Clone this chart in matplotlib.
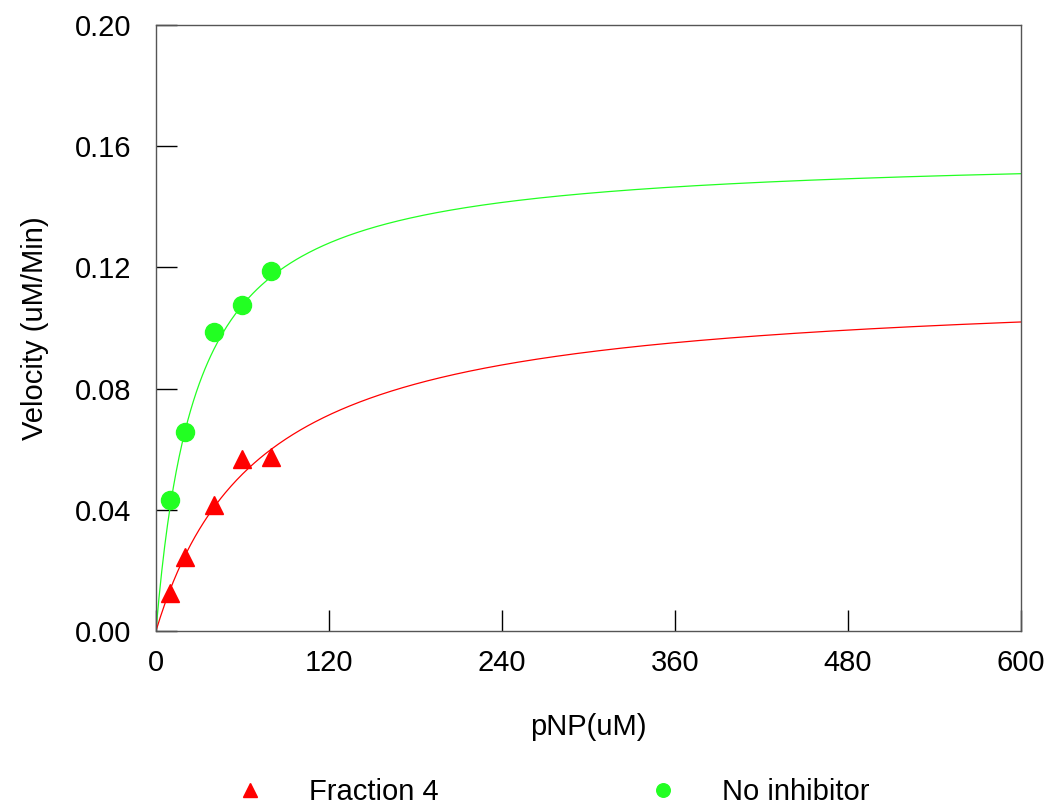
import numpy as np
import matplotlib.pyplot as plt
from matplotlib.ticker import FormatStrFormatter

plt.rcParams["font.family"] = ["Liberation Sans", "DejaVu Sans"]

# substrate concentrations (uM) and measured velocities (uM/min)
pnp = [10, 20, 40, 60, 80]
v_fraction4 = [0.0125, 0.0244, 0.0416, 0.0568, 0.0574]
v_no_inhib = [0.0432, 0.0657, 0.0987, 0.1076, 0.1188]

# Michaelis-Menten fit parameters (Vmax, Km)
fit_fraction4 = (0.1143, 72.4)
fit_no_inhib = (0.158, 28.1)

red = "#ff0000"
green = "#22ff22"


def mm(s, vmax, km):
    return vmax * s / (km + s)


fig = plt.figure(figsize=(10.51, 8.09), dpi=100)
ax = fig.add_axes([0.1484, 0.22, 0.8231, 0.7491])

s = np.linspace(0, 600, 600)
ax.plot(s, mm(s, *fit_no_inhib), color=green, lw=0.9, zorder=2)
ax.plot(s, mm(s, *fit_fraction4), color=red, lw=0.9, zorder=2)

ax.plot(pnp, v_fraction4, "^", color=red, ms=13, mec=red, ls="none",
        label="Fraction 4", zorder=3)
ax.plot(pnp, v_no_inhib, "o", color=green, ms=13, mec=green, ls="none",
        label="No inhibitor", zorder=3)

ax.set_xlim(0, 600)
ax.set_ylim(0, 0.2)
ax.set_xticks([0, 120, 240, 360, 480, 600])
ax.set_yticks([0, 0.04, 0.08, 0.12, 0.16, 0.20])
ax.yaxis.set_major_formatter(FormatStrFormatter("%.2f"))
ax.tick_params(direction="in", length=15, width=1, labelsize=21)
ax.tick_params(axis="y", pad=18)
ax.tick_params(axis="x", pad=13)

for sp in ax.spines.values():
    sp.set_color("#555555")
    sp.set_linewidth(1)

ax.set_xlabel("pNP(uM)", fontsize=21, labelpad=26)
ax.set_ylabel("Velocity (uM/Min)", fontsize=21, labelpad=18)

fig.legend(loc="center left", bbox_to_anchor=(0.213, 0.021), ncol=2,
           frameon=False, fontsize=21, handlelength=1.0, handletextpad=1.52,
           columnspacing=7.2, markerscale=0.75, borderaxespad=0)

fig.savefig("out.png", dpi=100)
